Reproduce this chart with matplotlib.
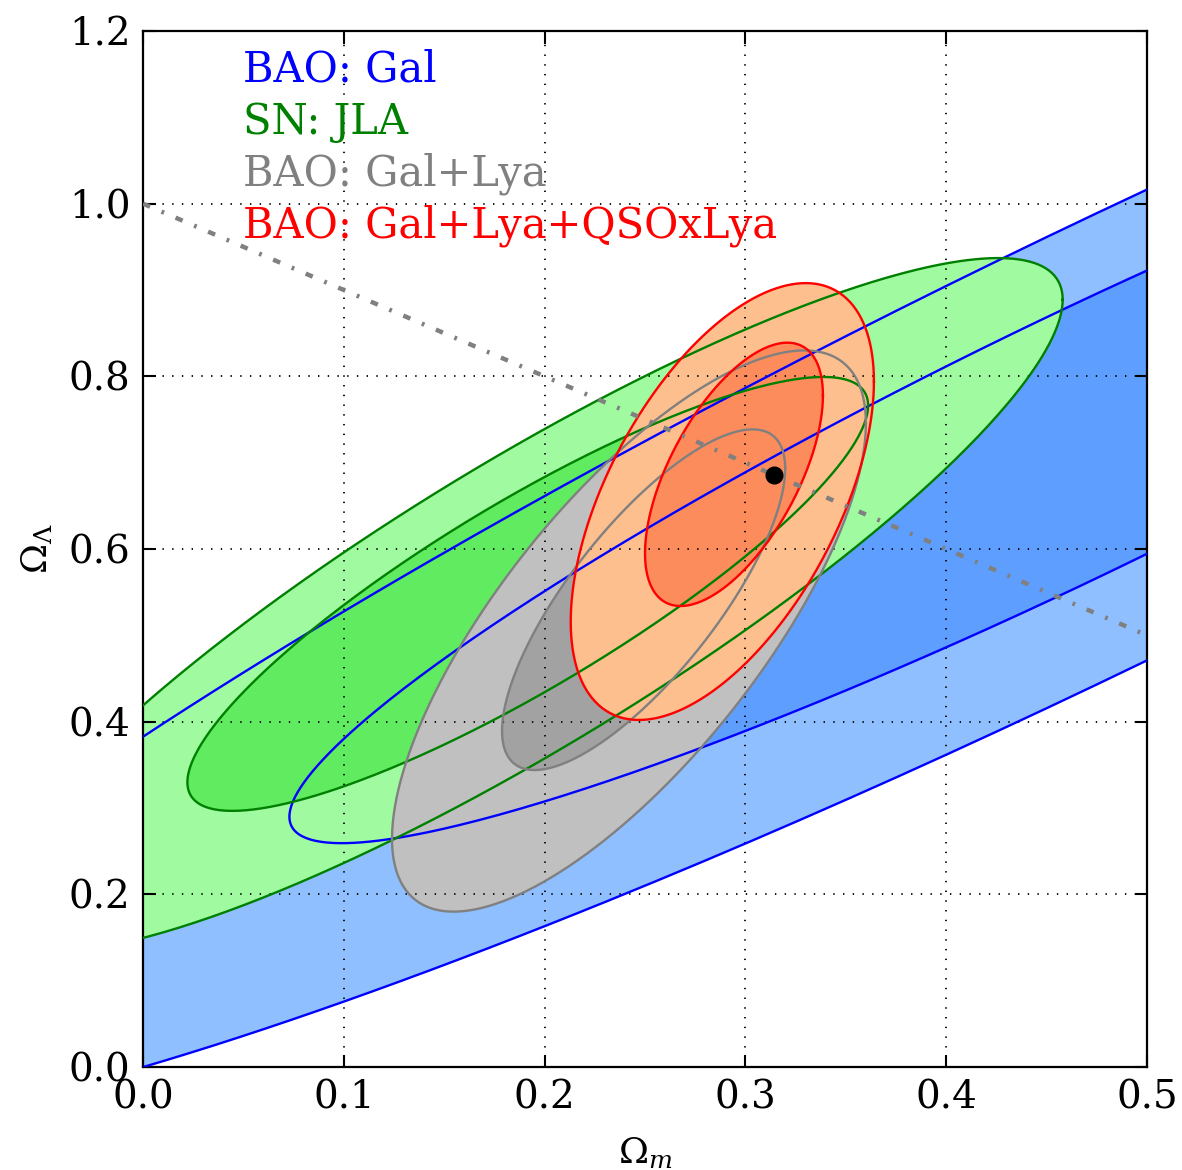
import numpy as np
import matplotlib
matplotlib.use("Agg")
import matplotlib.pyplot as plt

plt.rcParams["font.family"] = "serif"
plt.rcParams["font.serif"] = ["DejaVu Serif"]
plt.rcParams["mathtext.fontset"] = "dejavuserif"
plt.rcParams["lines.scale_dashes"] = False

# probes, drawn back to front
labels = ["BAO: Gal", "SN: JLA", "BAO: Gal+Lya", "BAO: Gal+Lya+QSOxLya"]

# 1 sigma contours: centre, half extents in Om / OL, correlation
om_c1 = [0.4624, 0.1916, 0.2493, 0.2943]
ol_c1 = [0.7173, 0.5480, 0.5413, 0.6865]
om_w1 = [0.3895, 0.1695, 0.0705, 0.0443]
ol_w1 = [0.4580, 0.2513, 0.1973, 0.1525]
rho1 = [0.933, 0.868, 0.77, 0.60]

# 2 sigma contours
om_c2 = [0.4686, 0.1900, 0.2420, 0.2885]
ol_c2 = [0.7090, 0.5350, 0.5050, 0.6550]
om_w2 = [0.6570, 0.2680, 0.1180, 0.0755]
ol_w2 = [0.7755, 0.4020, 0.3250, 0.2530]
rho2 = [0.936, 0.88, 0.74, 0.55]

# flat universe line and best fit point
flat_om = [0.0, 0.5]
flat_ol = [1.0, 0.5]
best_om = 0.3142
best_ol = 0.6857

xticks = [0.0, 0.1, 0.2, 0.3, 0.4, 0.5]
yticks = [0.0, 0.2, 0.4, 0.6, 0.8, 1.0, 1.2]

edge_cols = ["#0000ff", "#008000", "#808080", "#ff0000"]
fill_out = ["#8fbfff", "#a0fba0", "#c0c0c0", "#fdbf8e"]
fill_in = ["#5e9eff", "#60eb60", "#a2a2a2", "#fd8c5c"]


def contour(cx, cy, sx, sy, rho, n=500):
    t = np.linspace(0, 2 * np.pi, n)
    x = cx + sx * np.cos(t)
    y = cy + sy * (rho * np.cos(t) + np.sqrt(1 - rho ** 2) * np.sin(t))
    return x, y


fig = plt.figure(figsize=(11.82, 11.70), dpi=100)
ax = fig.add_axes([0.121, 0.088, 0.8494, 0.8855])

shapes = []
for i in range(len(labels)):
    out = contour(om_c2[i], ol_c2[i], om_w2[i], ol_w2[i], rho2[i])
    inn = contour(om_c1[i], ol_c1[i], om_w1[i], ol_w1[i], rho1[i])
    ax.fill(*out, color=fill_out[i], lw=0, zorder=1)
    ax.fill(*inn, color=fill_in[i], lw=0, zorder=1)
    shapes.append((out, inn))

for i, (out, inn) in enumerate(shapes):
    ax.plot(*out, color=edge_cols[i], lw=1.7, zorder=3)
    ax.plot(*inn, color=edge_cols[i], lw=1.7, zorder=3)

ax.plot(flat_om, flat_ol, color="gray", lw=3.2, dashes=(5.5, 9, 2, 9),
        solid_capstyle="butt", dash_capstyle="butt", zorder=3)
ax.plot(best_om, best_ol, "o", color="black", ms=12, zorder=4)

for i, lab in enumerate(labels):
    ax.text(0.0996, 0.951 - 0.05 * i, lab, color=edge_cols[i], fontsize=30,
            transform=ax.transAxes, va="baseline", ha="left", zorder=5)

ax.set_xlim(0, 0.5)
ax.set_ylim(0, 1.2)
ax.set_xticks(xticks)
ax.set_yticks(yticks)
ax.set_xticklabels([f"{v:.1f}" for v in xticks])
ax.set_yticklabels([f"{v:.1f}" for v in yticks])
ax.tick_params(direction="in", top=True, right=True, length=9, width=1.5,
               labelsize=28, pad=9)
ax.grid(True, color="black", lw=1.3, dashes=(1.0, 6.0))
ax.set_axisbelow(False)
for s in ax.spines.values():
    s.set_linewidth(1.6)

ax.set_xlabel(r"$\Omega_m$", fontsize=26, labelpad=14)
ax.set_ylabel(r"$\Omega_\Lambda$", fontsize=26, labelpad=10)

fig.savefig("out.png", dpi=100)
